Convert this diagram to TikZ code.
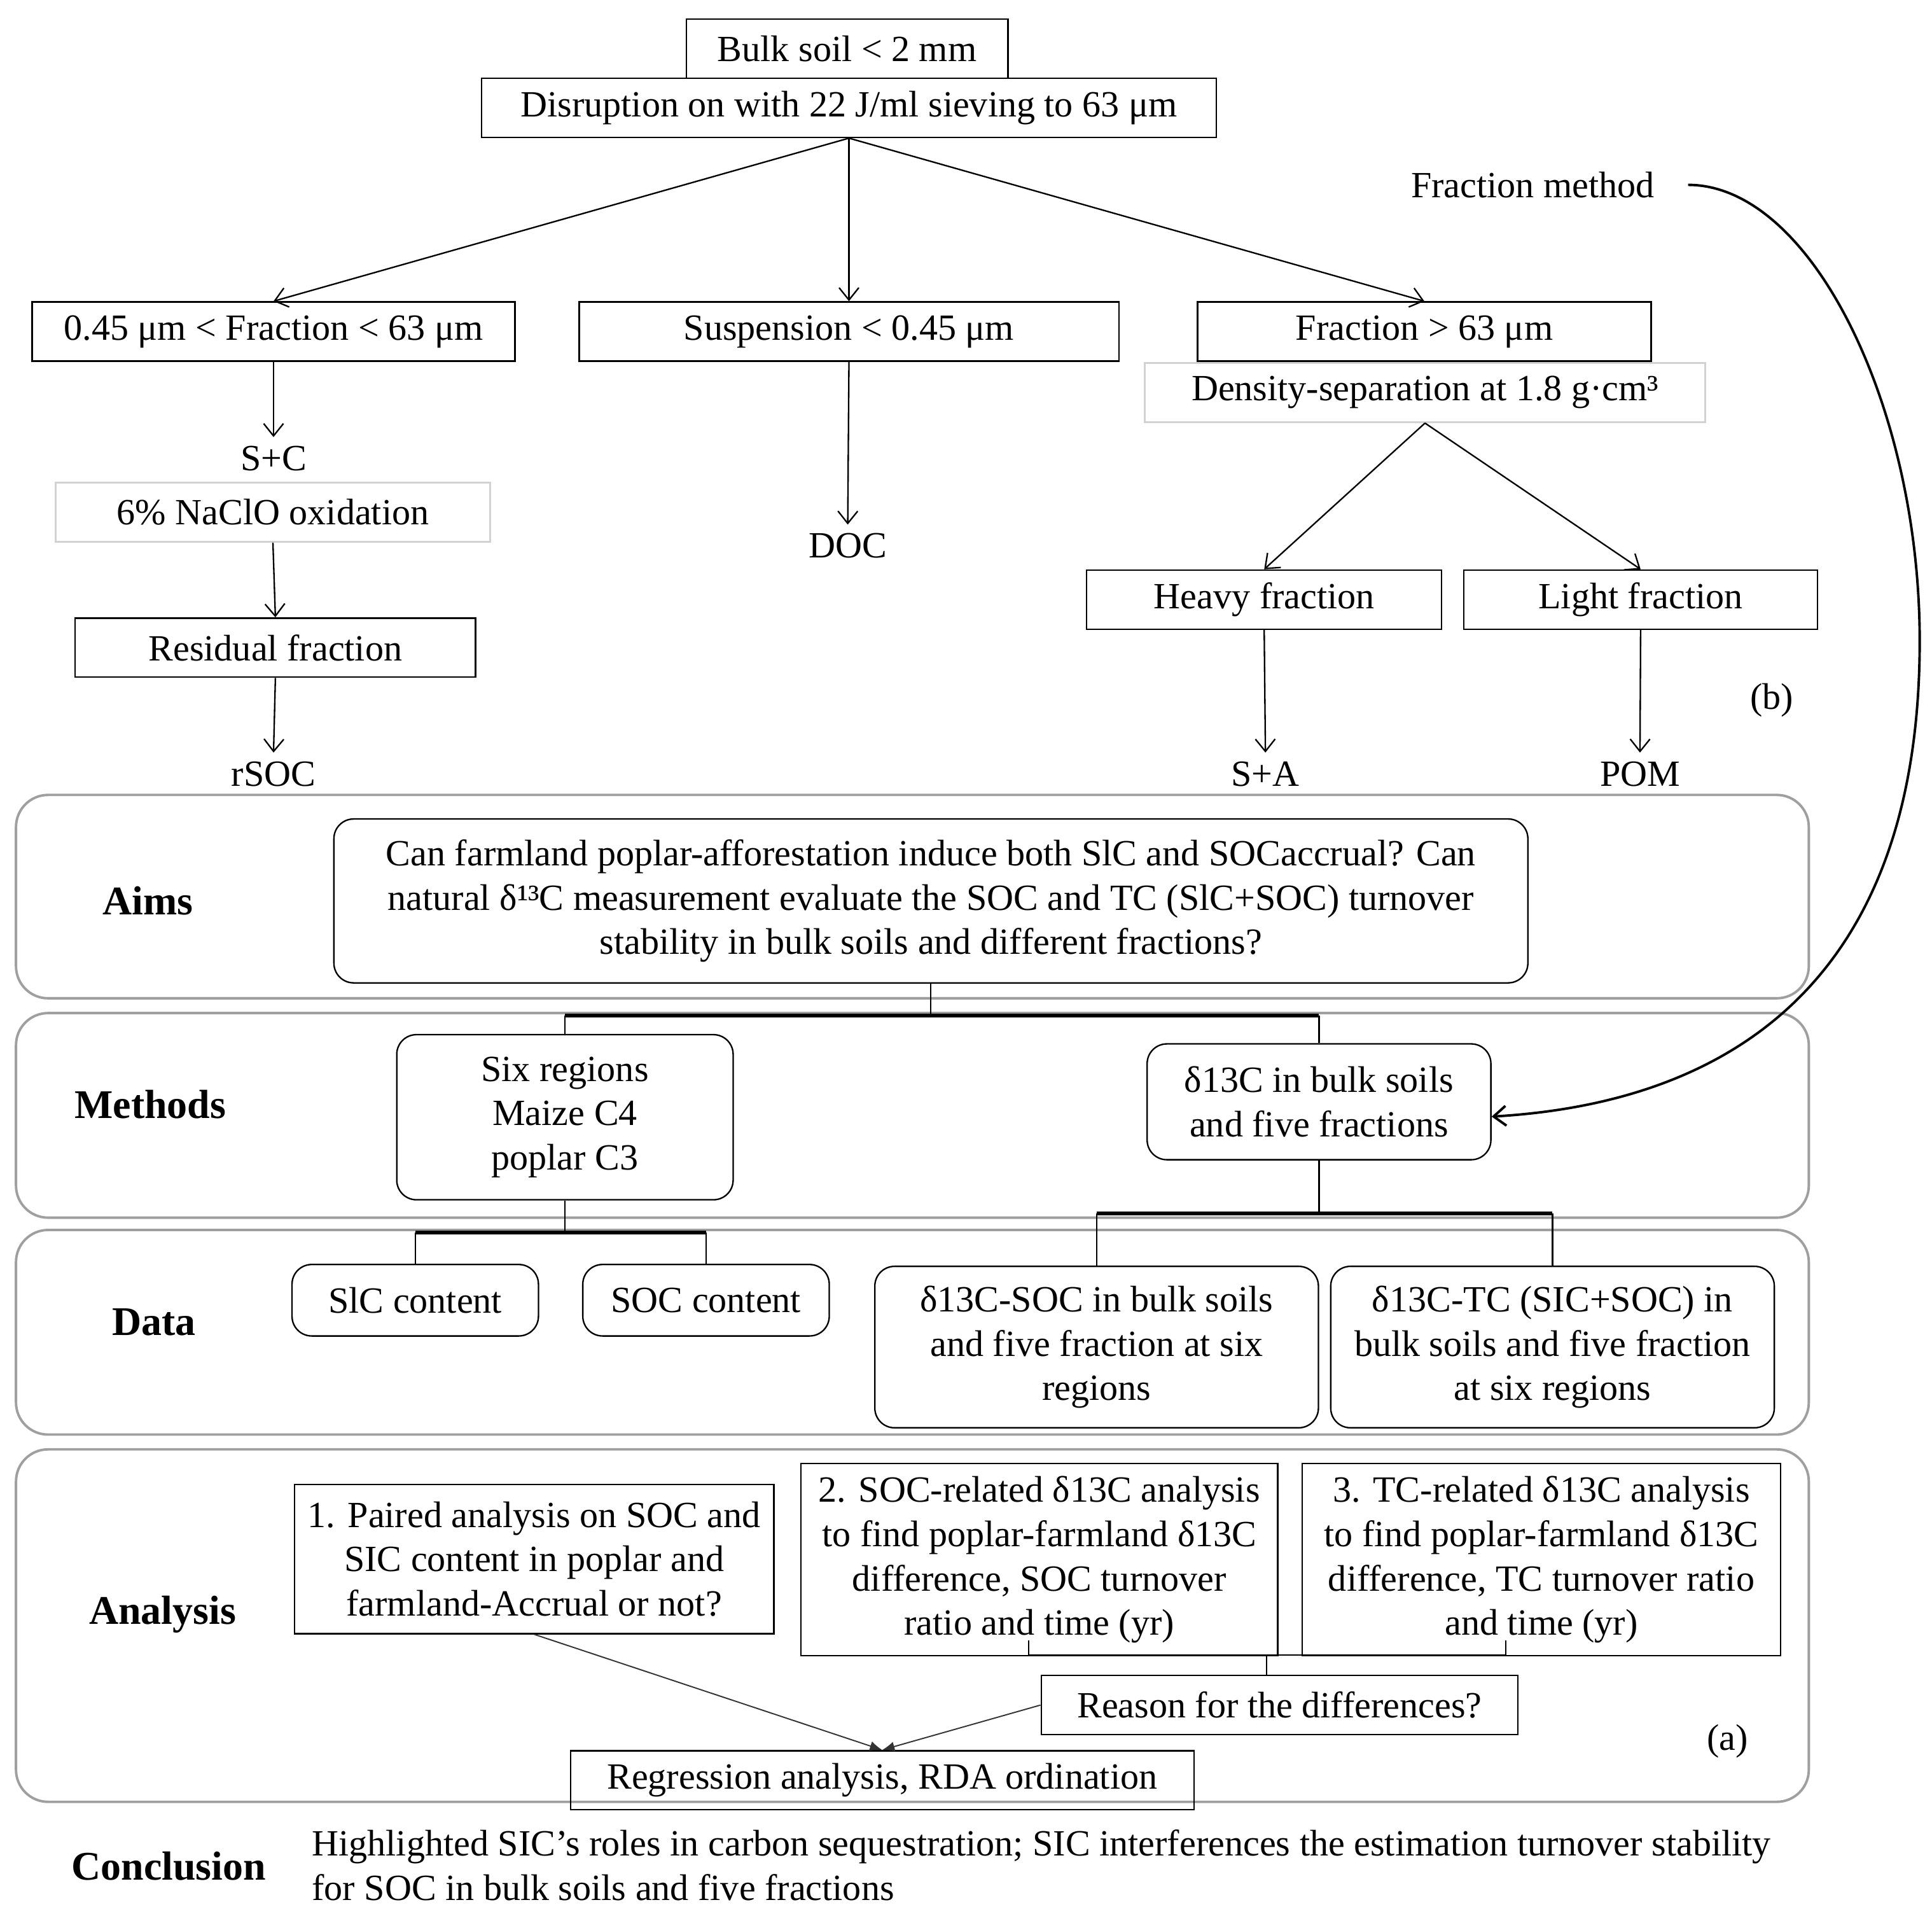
\documentclass[tikz,border=0pt]{standalone}
\usepackage{fontspec}
\setmainfont{Liberation Serif}
\usetikzlibrary{arrows.meta,positioning,calc}

\begin{document}
\begin{tikzpicture}[x=0.5pt,y=-0.5pt,line width=0.6pt,
  every node/.style={font=\fontsize{15}{18}\selectfont},
  box/.style={draw,line width=0.6pt,inner sep=2pt,align=center,minimum height=24pt},
  softbox/.style={box,draw=gray!35,line width=0.8pt},
  rbox/.style={draw,line width=0.6pt,rounded corners=8pt,align=center,inner sep=3pt},
  panel/.style={draw=gray!75,line width=1pt,rounded corners=13pt},
  lbl/.style={font=\fontsize{16.5}{20}\selectfont\bfseries},
  arr/.style={-{Straight Barb[length=5pt,width=8pt]},line width=0.6pt},
  thinarr/.style={-{Latex[length=5pt,width=4pt]},line width=0.5pt,black!80},
  bar/.style={line width=1.6pt}]
  \useasboundingbox (0,0) rectangle (1568,1553);

  % panels
  \draw[panel] (13,645) rectangle (1468,810);
  \draw[panel] (13,822) rectangle (1468,988);
  \draw[panel] (13,998) rectangle (1468,1164);
  \draw[panel] (13,1176) rectangle (1468,1462);

  % fractionation scheme (b)
  \node[box,minimum width=130.5pt] (bulk) at (687.5,39.5) {Bulk soil < 2 mm};
  \node[box,minimum width=298pt] (disr) at (689,87.5) {Disruption on with 22 J/ml sieving to 63 μm};
  \node[box,minimum width=196pt] (fine) at (222,269) {0.45 μm < Fraction < 63 μm};
  \node[box,minimum width=219pt] (susp) at (689,269) {Suspension < 0.45 μm};
  \node[box,minimum width=184pt] (coarse) at (1156,269) {Fraction > 63 μm};
  \node[softbox,minimum width=227.5pt] (dens) at (1156.5,318.5) {Density-separation at 1.8 g·cm³};
  \node (fm) at (1244,150) {Fraction method};
  \draw[arr] (disr.south) -- (fine.north);
  \draw[arr] (disr.south) -- (susp.north);
  \draw[arr] (disr.south) -- (coarse.north);

  \node (sc) at (222,372) {S+C};
  \node[softbox,minimum width=176.5pt] (naclo) at (221.5,415.5) {6\% NaClO oxidation};
  \node[box,minimum width=162.5pt] (resid) at (223.5,525.5) {Residual fraction};
  \node (rsoc) at (222,628) {rSOC};
  \draw[arr] (fine.south) -- (sc.north);
  \draw[arr] (naclo.south) -- (resid.north);
  \draw[arr] (resid.south) -- (rsoc.north);

  \node (doc) at (688,443) {DOC};
  \draw[arr] (susp.south) -- (doc.north);

  \node[box,minimum width=144pt] (heavy) at (1026,486.5) {Heavy fraction};
  \node[box,minimum width=143.5pt] (light) at (1331.5,486.5) {Light fraction};
  \node (sa) at (1027,628) {S+A};
  \node (pom) at (1331,628) {POM};
  \node (b) at (1438,568) {(b)};
  \draw[arr] (dens.south) -- (heavy.north);
  \draw[arr] (dens.south) -- (light.north);
  \draw[arr] (heavy.south) -- (sa.north);
  \draw[arr] (light.south) -- (pom.north);

  % row labels
  \node[lbl] (laims) at (120,731) {Aims};
  \node[lbl] (lmeth) at (122,896) {Methods};
  \node[lbl] (ldata) at (125,1073) {Data};
  \node[lbl] (lanal) at (132,1310) {Analysis};
  \node[lbl] (lconc) at (137,1514) {Conclusion};

  % aims and methods
  \node[rbox,minimum width=484.5pt,minimum height=66.5pt] (aims) at (755.5,731)
    {Can farmland poplar-afforestation induce both SlC and SOCaccrual? Can\\
     natural δ¹³C measurement evaluate the SOC and TC (SlC+SOC) turnover\\
     stability in bulk soils and different fractions?};
  \node[rbox,minimum width=136.5pt,minimum height=67pt] (six) at (458.5,906.5) {Six regions\\Maize C4\\poplar C3};
  \node[rbox,minimum width=139.5pt,minimum height=47pt] (dmeth) at (1070.5,894) {δ13C in bulk soils\\and five fractions};
  \draw (aims.south) -- ++(0,26) coordinate (aj);
  \draw[bar] (six.north |- aj) -- (dmeth.north |- aj);
  \draw (six.north |- aj) -- (six.north);
  \draw (dmeth.north |- aj) -- (dmeth.north);

  \draw[arr,line width=1pt] ([xshift=10pt]fm.east) .. controls (1470,150) and (1558,330) .. (1558,520)
    .. controls (1558,800) and (1400,895) .. ([yshift=-6pt]dmeth.east);

  % data
  \node[rbox,minimum width=100pt,minimum height=29pt] (sic) at (337,1055) {SlC content};
  \node[rbox,minimum width=100pt,minimum height=29pt] (soc) at (573,1055) {SOC content};
  \node[rbox,minimum width=180pt,minimum height=65.5pt] (dsoc) at (890,1093)
    {δ13C-SOC in bulk soils\\and five fraction at six\\regions};
  \node[rbox,minimum width=180pt,minimum height=65.5pt] (dtc) at (1260,1093)
    {δ13C-TC (SIC+SOC) in\\bulk soils and five fraction\\at six regions};
  \draw (six.south) -- ++(0,26) coordinate (sj);
  \draw[bar] (sic.north |- sj) -- (soc.north |- sj);
  \draw (sic.north |- sj) -- (sic.north);
  \draw (soc.north |- sj) -- (soc.north);
  \draw (dmeth.south) -- ++(0,43) coordinate (dj);
  \draw[bar] (dsoc.north |- dj) -- (dtc.north |- dj);
  \draw (dsoc.north |- dj) -- (dsoc.north);
  \draw (dtc.north |- dj) -- (dtc.north);

  % analysis (a)
  \node[box,minimum width=194.5pt,minimum height=60.5pt] (an1) at (433.5,1265)
    {1. Paired analysis on SOC and\\SIC content in poplar and\\farmland-Accrual or not?};
  \node[box,minimum width=193.5pt,minimum height=78pt] (an2) at (843.5,1265.5)
    {2. SOC-related δ13C analysis\\to find poplar-farmland δ13C\\difference, SOC turnover\\ratio and time (yr)};
  \node[box,minimum width=194pt,minimum height=78pt] (an3) at (1251,1265.5)
    {3. TC-related δ13C analysis\\to find poplar-farmland δ13C\\difference, TC turnover ratio\\and time (yr)};
  \node[box,minimum width=193.5pt] (reason) at (1038.5,1383.5) {Reason for the differences?};
  \node[box,minimum width=253pt] (reg) at (716,1444.5) {Regression analysis, RDA ordination};
  \node (a) at (1402,1413) {(a)};
  \draw (835,1331) -- (835,1343) -| (1222,1331);
  \coordinate (brk) at (1028,1343);
  \draw (brk) -- (brk |- reason.north);
  \draw[thinarr] (an1.south) -- (reg.north);
  \draw[thinarr] (reason.west) -- (reg.north);

  % conclusion
  \node[anchor=west,align=left] (concl) at (246,1513.5)
    {Highlighted SIC’s roles in carbon sequestration; SIC interferences the estimation turnover stability\\
     for SOC in bulk soils and five fractions};
\end{tikzpicture}
\end{document}
